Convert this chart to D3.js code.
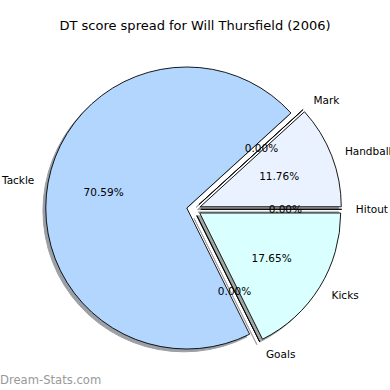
<!DOCTYPE html>
<html>
<head>
<meta charset="utf-8">
<script src="https://cdn.jsdelivr.net/npm/d3@7"></script>
<style>
  html, body { margin: 0; padding: 0; background: #fff; }
  svg { display: block; font-family: "DejaVu Sans", sans-serif; }
</style>
</head>
<body>
<script>
const w = 390;
const h = 390;

// DT points per stat (percentages are of a 17 point total)
const categories = ["Handball", "Mark", "Tackle", "Goals", "Kicks", "Hitout"];
const values = [2, 0, 12, 0, 3, 0];
const colors = ["#ebf2ff", "#fff0d9", "#b3d6ff", "#ffe0e0", "#d9ffff", "#e6e6e6"];

const title = "DT score spread for Will Thursfield (2006)";
const watermark = "Dream-Stats.com";

const cx = 193.7;
const cy = 209.3;
const radius = 141;
const explode = 0.05;
const shadowOff = 0.02 * radius;

const svg = d3.select("body")
    .append("svg")
    .attr("width", w)
    .attr("height", h);

// matplotlib style: start at 3 o'clock, go counterclockwise
const pie = d3.pie()
    .sort(null)
    .value(d => d)
    .startAngle(Math.PI / 2)
    .endAngle(Math.PI / 2 - 2 * Math.PI);

const arcs = pie(values);
const total = d3.sum(values);

const arc = d3.arc().innerRadius(0).outerRadius(radius);

function dir(d) {
    const m = (d.startAngle + d.endAngle) / 2;
    return [Math.sin(m), -Math.cos(m)];
}

function shadowColor(c) {
    const rgb = d3.rgb(c);
    // 0.3 * face colour at alpha 0.5 on white
    const f = v => Math.round(0.5 * 0.3 * v + 0.5 * 255);
    return d3.rgb(f(rgb.r), f(rgb.g), f(rgb.b)).toString();
}

const g = svg.append("g").attr("transform", `translate(${cx},${cy})`);

// shadows under everything
g.selectAll("path.shadow")
    .data(arcs)
    .enter()
    .append("path")
    .attr("class", "shadow")
    .attr("d", arc)
    .attr("transform", d => {
        const [dx, dy] = dir(d);
        return `translate(${dx * explode * radius - shadowOff},${dy * explode * radius + shadowOff})`;
    })
    .style("fill", (d, i) => shadowColor(colors[i]))
    .style("stroke", (d, i) => shadowColor(colors[i]))
    .style("stroke-width", 1);

g.selectAll("path.wedge")
    .data(arcs)
    .enter()
    .append("path")
    .attr("class", "wedge")
    .attr("d", arc)
    .attr("transform", d => {
        const [dx, dy] = dir(d);
        return `translate(${dx * explode * radius},${dy * explode * radius})`;
    })
    .style("fill", (d, i) => colors[i])
    .style("stroke", "#000")
    .style("stroke-width", 0.9)
    .style("stroke-linejoin", "miter");

// category labels
g.selectAll("text.label")
    .data(arcs)
    .enter()
    .append("text")
    .attr("class", "label")
    .attr("x", d => dir(d)[0] * (explode + 1.1) * radius)
    .attr("y", d => dir(d)[1] * (explode + 1.1) * radius)
    .attr("text-anchor", d => dir(d)[0] > 0 ? "start" : "end")
    .attr("dominant-baseline", "central")
    .style("font-size", "10.5px")
    .style("fill", "#000")
    .text((d, i) => categories[i]);

// percentages
g.selectAll("text.pct")
    .data(arcs)
    .enter()
    .append("text")
    .attr("class", "pct")
    .attr("x", d => dir(d)[0] * (explode + 0.6) * radius)
    .attr("y", d => dir(d)[1] * (explode + 0.6) * radius)
    .attr("text-anchor", "middle")
    .attr("dominant-baseline", "central")
    .style("font-size", "10.5px")
    .style("fill", "#000")
    .text(d => (100 * d.value / total).toFixed(2) + "%");

svg.append("text")
    .attr("x", w / 2)
    .attr("y", 30)
    .attr("text-anchor", "middle")
    .style("font-size", "13px")
    .style("fill", "#000")
    .text(title);

svg.append("text")
    .attr("x", 0)
    .attr("y", 384)
    .style("font-size", "11.6px")
    .style("fill", "#999")
    .text(watermark);
</script>
</body>
</html>
